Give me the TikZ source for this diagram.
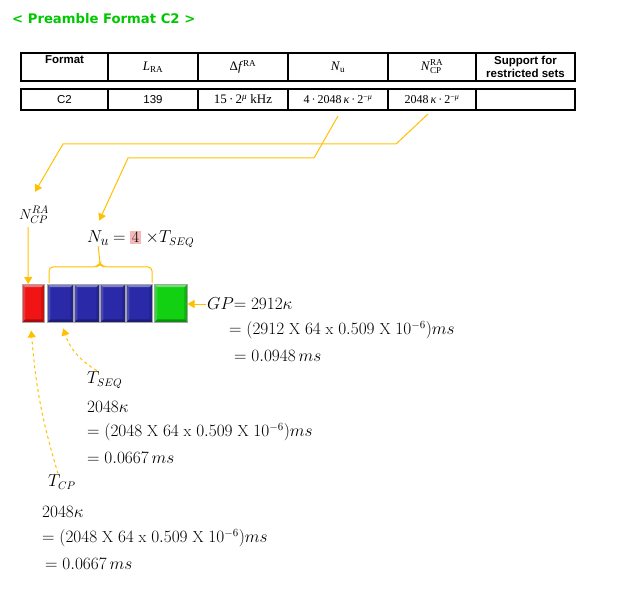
\documentclass[tikz,border=0pt]{standalone}
\usepackage{fontspec}
\usepackage{amsmath}
\usetikzlibrary{arrows.meta,calc}
\newfontfamily\arialf{Liberation Sans}
\newfontfamily\timesf{Liberation Serif}
\newfontfamily\verdf{DejaVu Sans}
\definecolor{ylw}{HTML}{FFC000}
\definecolor{ttlgreen}{HTML}{00C800}
\definecolor{boxred}{HTML}{F01414}
\definecolor{boxblue}{HTML}{2A2AA8}
\definecolor{boxgreen}{HTML}{12D012}
\definecolor{hlpink}{HTML}{F4B8B8}

\tikzset{
  cell/.style={draw, line width=1.1pt, inner sep=0pt, outer sep=0pt, minimum height=28pt,
    align=center, font=\arialf\fontsize{11.5}{13}\selectfont},
  vcell/.style={cell, minimum height=21pt},
  tms/.style={font=\timesf\fontsize{13}{15}\selectfont},
  ylwline/.style={draw=ylw, line width=1pt},
  ytip/.style={-{Triangle[length=7pt,width=8pt]}},
  mtxt/.style={anchor=west, inner sep=1pt, font=\fontsize{16}{18}\selectfont},
  blk/.style={draw=black!35, line width=0.5pt, minimum height=38pt, inner sep=0pt, anchor=north west,
    path picture={
      \coordinate (pnw) at (path picture bounding box.north west);
      \coordinate (pne) at (path picture bounding box.north east);
      \coordinate (psw) at (path picture bounding box.south west);
      \coordinate (pse) at (path picture bounding box.south east);
      \fill[white, opacity=.4] (pnw) -- (pne) -- ([shift={(-3pt,-3pt)}]pne) -- ([shift={(3pt,-3pt)}]pnw) -- cycle;
      \fill[black, opacity=.3] (psw) -- (pse) -- ([shift={(-3pt,3pt)}]pse) -- ([shift={(3pt,3pt)}]psw) -- cycle;
      \fill[white, opacity=.15] (pnw) -- (psw) -- ([shift={(3pt,3pt)}]psw) -- ([shift={(3pt,-3pt)}]pnw) -- cycle;
      \fill[black, opacity=.15] (pne) -- (pse) -- ([shift={(-3pt,3pt)}]pse) -- ([shift={(-3pt,-3pt)}]pne) -- cycle;
    }}
}

\begin{document}
\begin{tikzpicture}[x=1pt, y=-1pt]
    \useasboundingbox (0,0) rectangle (623,593);

    % --- title ---
    \node[anchor=west, inner sep=0pt, text=ttlgreen, font=\verdf\bfseries\fontsize{13.2}{15}\selectfont] (title) at (12,19) {< Preamble Format C2 >};

    % --- table: header row ---
    \node[cell, minimum width=87pt, label={[font=\arialf\bfseries\fontsize{11.5}{13}\selectfont, anchor=north, inner sep=2pt]north:Format}] (fmt) at (64.5,67) {};
    \node[cell, tms, minimum width=90pt] (lra) at (153,67) {\textit{L}\textsubscript{RA}};
    \node[cell, tms, minimum width=90pt] (df) at (243,67) {Δ\textit{f}\textsuperscript{RA}};
    \node[cell, tms, minimum width=100pt] (nu) at (338,67) {\textit{N}\textsubscript{u}};
    \node[cell, tms, minimum width=88pt] (ncp) at (432,67) {\textit{N}$^{\text{\timesf RA}}_{\text{\timesf CP}}$};
    \node[cell, font=\arialf\bfseries\fontsize{11.5}{13}\selectfont, minimum width=99pt] (sup) at (525.5,67) {Support for\\restricted sets};

    % --- table: C2 row ---
    \node[vcell, minimum width=87pt] (vfmt) at (64.5,99.5) {C2};
    \node[vcell, minimum width=90pt] (vlra) at (153,99.5) {139};
    \node[vcell, tms, minimum width=90pt] (vdf) at (243,99.5) {15\,·\,2\textsuperscript{\textit{μ}} kHz};
    \node[vcell, tms, font=\timesf\fontsize{12}{14}\selectfont, minimum width=100pt] (vnu) at (338,99.5) {4\,·\,2048\,\textit{κ}\,·\,2\textsuperscript{−\textit{μ}}};
    \node[vcell, tms, font=\timesf\fontsize{12}{14}\selectfont, minimum width=88pt] (vncp) at (432,99.5) {2048\,\textit{κ}\,·\,2\textsuperscript{−\textit{μ}}};
    \node[vcell, minimum width=99pt] (vsup) at (525.5,99.5) {};

    % --- labels ---
    \node[font=\fontsize{15}{17}\selectfont] (ncplbl) at (34,215) {$N_{CP}^{RA}$};
    \node[anchor=west, inner sep=1pt, font=\fontsize{19}{21}\selectfont] (nulbl) at (86,238) {$N_u$};
    \node[mtxt] (nueq) at (112,239) {$=$\ {\setlength{\fboxsep}{1.5pt}\colorbox{hlpink}{4}}\ $\times T_{SEQ}$};

    % --- preamble blocks ---
    \node[blk, fill=boxred, minimum width=22pt] (cpbox) at (22,284) {};
    \node[blk, fill=boxblue, minimum width=26pt] (s1) at (47,284) {};
    \node[blk, fill=boxblue, minimum width=25pt] (s2) at (74,284) {};
    \node[blk, fill=boxblue, minimum width=25pt] (s3) at (100,284) {};
    \node[blk, fill=boxblue, minimum width=26pt] (s4) at (126,284) {};
    \node[blk, fill=boxgreen, minimum width=33pt] (gnbox) at (154,284) {};

    % --- GP ---
    \node[mtxt] (gp1) at (206,304) {$GP{=}\;2912\kappa$};
    \node[mtxt] (gp2) at (228,330) {$= (2912\ \mathrm{X}\ 64\ \mathrm{x}\ 0.509\ \mathrm{X}\ 10^{-6})ms$};
    \node[mtxt] (gp3) at (233,356) {$= 0.0948\,ms$};

    % --- T_SEQ ---
    \node[mtxt] (tseqlbl) at (86,380) {$T_{SEQ}$};
    \node[mtxt] (seq1t) at (86,407) {$2048\kappa$};
    \node[mtxt] (seq2t) at (86,432) {$= (2048\ \mathrm{X}\ 64\ \mathrm{x}\ 0.509\ \mathrm{X}\ 10^{-6})ms$};
    \node[mtxt] (seq3t) at (86,458) {$= 0.0667\,ms$};

    % --- T_CP ---
    \node[mtxt] (tcplbl) at (47,482) {$T_{CP}$};
    \node[mtxt] (cp1t) at (41,512) {$2048\kappa$};
    \node[mtxt] (cp2t) at (41,538) {$= (2048\ \mathrm{X}\ 64\ \mathrm{x}\ 0.509\ \mathrm{X}\ 10^{-6})ms$};
    \node[mtxt] (cp3t) at (44,564) {$= 0.0667\,ms$};

    % --- yellow connectors ---
    \coordinate (bendA1) at (396,144);
    \coordinate (bendA2) at (63,144);
    \coordinate (bendB1) at (314,158);
    \coordinate (bendB2) at (128,158);
    \coordinate (brtop) at (100,263);
    \draw[ylwline, ytip] ([shift={(-4pt,-4pt)}]vncp.south) -- (bendA1) -- (bendA2) -- ([shift={(1pt,11pt)}]ncplbl.north);
    \draw[ylwline, ytip] ([shift={(0pt,-6pt)}]vnu.south) -- (bendB1) -- (bendB2) -- ([shift={(1pt,9pt)}]nulbl.north);
    \draw[ylwline, ytip] ([xshift=-6pt]ncplbl.south) -- ([xshift=-5pt]cpbox.north);
    \draw[ylwline] (nulbl.south) -- (brtop);
    \draw[ylwline, rounded corners=4pt] (49,283) |- (97,267) -- (brtop) -- (103,267) -| (152,283);
    \draw[ylwline, ytip] (gp1.west) -- (gp1.west -| gnbox.east);
    \draw[ylwline, dashed, ytip] ([xshift=-8pt]tseqlbl.north) to[bend left=20] ([shift={(3pt,-6pt)}]s1.south);
    \draw[ylwline, dashed, ytip] ([xshift=-4pt]tcplbl.north) to[bend left=6] ([shift={(-2pt,-8pt)}]cpbox.south);
\end{tikzpicture}
\end{document}
